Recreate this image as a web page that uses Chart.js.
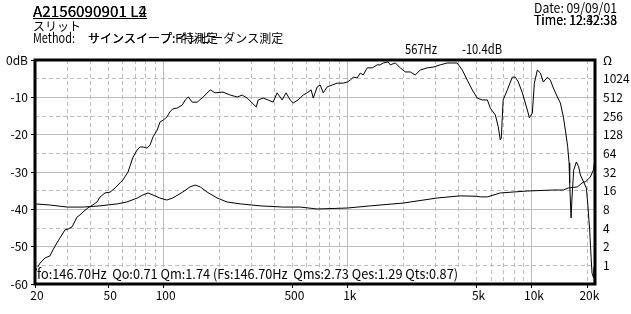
<!DOCTYPE html>
<html>
<head>
<meta charset="utf-8">
<script src="https://cdn.jsdelivr.net/npm/chart.js@4.4.0/dist/chart.umd.min.js"></script>
<style>
  html, body { margin: 0; padding: 0; background: #fff; }
  canvas { display: block; }
</style>
</head>
<body>
<canvas id="chart" width="631" height="314"></canvas>
<script>
/* ─── Data ───────────────────────────────────────────────────────────────── */
// frequency response, Hz / dB
const frFreq = [20,21.3,22.7,24.1,25.0,26.3,27.3,29.1,30.2,31.8,
  33.8,35.1,36.5,38.8,41.3,43.5,45.1,48.0,51.1,54.4,
  58.0,60.1,64.0,67.3,68.2,71.7,74.4,77.3,81.2,84.3,
  87.5,92.1,95.5,99.3,104,108,112,118,126,131,
  136,143,152,164,179,190,210,230,251,267,
  284,302,318,326,347,369,393,413,440,462,
  486,505,537,572,601,632,649,682,708,735,
  773,822,875,944,993,1030,1070,1125,1168,1213,
  1274,1358,1445,1500,1557,1656,1699,1810,1926,2050,
  2182,2322,2471,2698,2911,3177,3467,3689,3925,4186,
  4455,4741,5046,5370,5728,5943,6325,6563,6730,6816,
  6975,7350,7823,8128,8433,8869,9440,9687,10049,10306,
  10697,11116,11535,12130,12590,13070,13740,14260,14820,15190,
  15630,15910,16030,16310,16510,16850,17430,17930,18320,19100,
  19750,20070,20580,20950,21200,21640,21750,21850,22000];
const frDb = [-56.8,-54.4,-53.0,-52.5,-50.9,-49.0,-47.7,-45.5,-45.3,-44.7,
  -42.1,-41.5,-40.7,-39.6,-38.8,-38.0,-36.7,-35.6,-35.4,-34.3,
  -32.9,-32.1,-30.0,-26.8,-26.0,-24.1,-23.3,-23.3,-23.6,-22.8,
  -20.6,-18.8,-16.6,-16.1,-15.3,-13.9,-13.1,-12.9,-12.1,-10.7,
  -9.9,-11.3,-11.3,-9.9,-8.0,-8.8,-8.6,-9.4,-9.9,-9.4,
  -10.2,-11.5,-12.6,-10.7,-10.2,-10.7,-11.3,-8.8,-10.7,-8.8,
  -10.7,-11.5,-10.7,-9.4,-8.8,-8.0,-10.2,-7.2,-6.7,-8.8,
  -7.2,-6.7,-6.2,-6.2,-5.9,-5.4,-4.6,-4.8,-3.5,-4.0,
  -2.1,-2.1,-1.3,-1.3,-0.8,-0.5,-1.3,-0.8,-2.1,-3.2,
  -3.2,-4.0,-2.7,-2.1,-1.9,-1.3,-0.8,-0.8,-0.8,-2.7,
  -5.4,-8.0,-10.2,-10.7,-10.7,-12.9,-14.7,-17.9,-21.4,-20.9,
  -10.7,-8.0,-4.6,-4.6,-5.9,-8.8,-13.4,-15.5,-14.2,-6.2,
  -2.7,-3.5,-5.9,-4.6,-5.4,-7.5,-9.9,-11.5,-15.3,-18.8,
  -23.2,-27.6,-33.0,-42.3,-36.7,-29.5,-27.3,-28.6,-30.8,-32.7,
  -34.3,-38.3,-45.5,-52.8,-57.1,-58.4,-55.5,-59.6,-60];

// impedance, Hz / ohm
const zFreq = [20,24,30,36.5,45,56,63,72,77,82,
  87.5,95,104,112,127,139,148,158,172,195,
  221,260,334,446,551,682,993,1324,2000,3062,
  4083,5000,5240,5728,6730,9440,13070,14820,15770,17660,
  19020,19500,20740,21570,21830,21950,22000];
const zOhm = [9.8,9.4,8.7,8.7,9.1,9.8,10.5,12.2,13.6,14.7,
  13.6,12.2,11.3,12.2,15.2,18.4,19.7,18.4,15.2,12.2,
  10.5,9.8,9.1,8.7,8.7,8.1,8.4,9.1,10.1,12.2,
  13.2,13.0,12.7,12.7,14.7,15.8,16.4,16.4,17.7,18.4,
  22.1,22.1,26.6,34.5,44.7,60,128];

// axes
const xTicks = [20,30,40,50,60,70,80,90,100,200,300,400,500,600,700,800,900,
  1000,2000,3000,4000,5000,6000,7000,8000,9000,10000,20000];
const xLabels = { 20: '20', 50: '50', 100: '100', 500: '500', 1000: '1k', 5000: '5k', 10000: '10k', 20000: '20k' };
const xSolid = [100, 1000, 10000];
const zTicks = [1,2,4,8,16,32,64,128,256,512,1024,2048];

/* ─── Header / footer texts ───────────────────────────────────────────────── */
const titleA = 'A2156090901 L2';
const titleB = 'A2156090901 L4';
const subTitle = 'スリット';
const methodLabel = 'Method:';
const methodA = 'サインスイープ:F特測定';
const methodB = 'サインスイープ:インピーダンス測定';
const dateText = 'Date: 09/09/01';
const timeA = 'Time: 12:32:33';
const timeB = 'Time: 12:42:38';
const cursorHz = '567Hz';
const cursorDb = '-10.4dB';
const paramsText = 'fo:146.70Hz  Qo:0.71 Qm:1.74 (Fs:146.70Hz  Qms:2.73 Qes:1.29 Qts:0.87)';

const FONT = "'Noto Sans CJK JP', sans-serif";
const GRID = '#bcbcbc';

/* ─── Helpers ─────────────────────────────────────────────────────────────── */
// draws latin text squeezed to the narrow width of the original bitmap font
function fitText(ctx, str, x, y, w) {
  const m = ctx.measureText(str).width;
  ctx.save();
  ctx.translate(x, y);
  ctx.scale(w / m, 1);
  ctx.fillText(str, 0, 0);
  ctx.restore();
}

const decor = {
  id: 'decor',
  afterDatasetsDraw(chart) {
    const ctx = chart.ctx;
    ctx.save();
    ctx.fillStyle = '#fff';
    ctx.fillRect(37, 267, 424, 15);
    ctx.fillStyle = '#000';
    ctx.font = '13.5px ' + FONT;
    ctx.textBaseline = 'alphabetic';
    fitText(ctx, paramsText, 37, 279, 421);
    ctx.restore();
  },
  afterDraw(chart) {
    const { ctx, chartArea: a } = chart;
    ctx.save();
    ctx.strokeStyle = '#000';
    ctx.lineWidth = 3;
    ctx.strokeRect(a.left, a.top, a.right - a.left, a.bottom - a.top);

    ctx.fillStyle = '#000';
    ctx.textBaseline = 'alphabetic';
    ctx.font = '15px ' + FONT;
    fitText(ctx, titleA, 33, 17, 114);
    fitText(ctx, titleB, 33, 17, 114);
    ctx.fillRect(33, 18, 114, 1);

    ctx.font = '12px ' + FONT;
    ctx.fillText(subTitle, 33, 31);
    ctx.fillText(methodA, 88, 43);
    ctx.fillText(methodB, 88, 43);

    ctx.font = '13.5px ' + FONT;
    fitText(ctx, methodLabel, 33, 43, 42);
    fitText(ctx, dateText, 534, 13, 83);
    fitText(ctx, timeA, 534, 25, 83);
    fitText(ctx, timeB, 534, 25, 83);
    fitText(ctx, cursorHz, 405, 54, 32);
    fitText(ctx, cursorDb, 462, 54, 40);
    ctx.restore();
  },
};

/* ─── Chart ───────────────────────────────────────────────────────────────── */
const frPoints = frFreq.map((f, i) => ({ x: f, y: frDb[i] }));
const zPoints = zFreq.map((f, i) => ({ x: f, y: zOhm[i] }));

new Chart(document.getElementById('chart'), {
  type: 'line',
  data: {
    datasets: [
      { label: 'SPL', data: frPoints, yAxisID: 'y', borderColor: '#000', borderWidth: 1, pointRadius: 0, tension: 0 },
      { label: 'Impedance', data: zPoints, yAxisID: 'z', borderColor: '#000', borderWidth: 1, pointRadius: 0, tension: 0 },
    ],
  },
  options: {
    responsive: false, animation: false,
    layout: { padding: { top: 60, left: 0, right: 0, bottom: 0 } },
    plugins: { legend: { display: false }, tooltip: { enabled: false } },
    scales: {
      x: {
        type: 'logarithmic', min: 20, max: 22000,
        afterBuildTicks: s => { s.ticks = xTicks.map(v => ({ value: v })); },
        afterFit: s => { s.height = 30; },
        border: { display: false, dash: c => (c.tick && !xSolid.includes(c.tick.value) ? [4, 3] : []) },
        grid: {
          color: GRID, lineWidth: 1, tickLength: 4,
          tickColor: c => (c.tick && xLabels[c.tick.value] ? '#000' : 'rgba(0,0,0,0)'),
        },
        ticks: {
          autoSkip: false, maxRotation: 0, padding: 0, labelOffset: 2,
          color: '#000', font: { family: FONT, size: 12 },
          callback: v => xLabels[v] || '',
        },
      },
      y: {
        type: 'linear', position: 'left', min: -60, max: 0,
        afterFit: s => { s.width = 35; },
        border: { display: false, dash: c => (c.tick && c.tick.value % 10 !== 0 ? [4, 3] : []) },
        grid: {
          color: GRID, lineWidth: 1, tickLength: 4,
          tickColor: c => (c.tick && c.tick.value % 10 === 0 ? '#000' : 'rgba(0,0,0,0)'),
        },
        ticks: {
          stepSize: 5, autoSkip: false, padding: 3,
          color: '#000', font: { family: FONT, size: 12 },
          callback: v => (v === 0 ? '0dB' : v % 10 === 0 ? String(v) : ''),
        },
      },
      z: {
        type: 'logarithmic', position: 'right', min: 0.5, max: 2048,
        afterBuildTicks: s => { s.ticks = zTicks.map(v => ({ value: v })); },
        afterFit: s => { s.width = 36; },
        border: { display: false },
        grid: { display: false, drawOnChartArea: false, drawTicks: false, tickLength: 0 },
        ticks: {
          autoSkip: false, padding: 8,
          color: '#000', font: { family: FONT, size: 12 },
          callback: v => (v === 2048 ? 'Ω' : String(v)),
        },
      },
    },
  },
  plugins: [decor],
});
</script>
</body>
</html>
